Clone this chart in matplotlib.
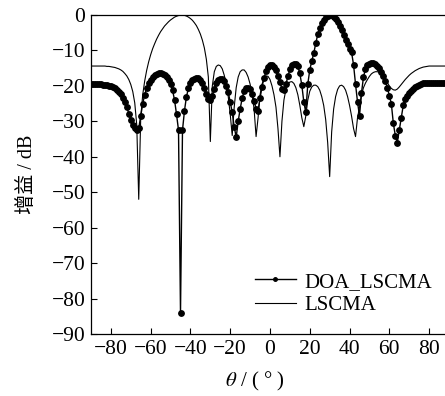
import numpy as np
import matplotlib
matplotlib.use('Agg')
import matplotlib.pyplot as plt

plt.rcParams['font.family'] = ['Liberation Serif', 'Noto Sans CJK SC']
plt.rcParams['mathtext.fontset'] = 'stix'
plt.rcParams['axes.unicode_minus'] = True

# angle grid, one value per degree
theta = np.arange(-90, 91)

lscma = [
    -14.4, -14.4, -14.4, -14.4, -14.4, -14.4, -14.4, -14.4, -14.5, -14.5,   # -90..-81
    -14.6, -14.7, -14.8, -15.0, -15.2, -15.5, -15.9, -16.5, -17.2, -18.2,   # -80..-71
    -19.6, -21.6, -24.8, -31.0, -52.0, -29.0, -22.5, -18.6, -15.6, -13.2,   # -70..-61
    -11.2, -9.5, -8.1, -6.8, -5.7, -4.7, -3.9, -3.1, -2.5, -1.9,            # -60..-51
    -1.4, -1.0, -0.6, -0.35, -0.15, -0.03, 0.0, -0.1, -0.3, -0.6,           # -50..-41
    -1.0, -1.5, -2.2, -3.0, -4.1, -5.4, -7.1, -9.3, -12.5, -17.5,           # -40..-31
    -35.7, -20.0, -16.0, -14.5, -14.1, -14.3, -15.2, -17.0, -19.5, -23.0,   # -30..-21
    -28.0, -34.0, -26.0, -20.5, -17.5, -16.0, -15.5, -15.5, -16.2, -17.5,   # -20..-11
    -19.5, -22.5, -26.5, -34.3, -29.0, -22.5, -19.5, -17.8, -17.2, -17.3,   # -10..-1
    -18.2, -20.0, -22.5, -26.0, -32.0, -40.0, -30.0, -24.0, -21.0, -19.5,   # 0..9
    -18.9, -18.8, -19.3, -20.5, -22.5, -25.5, -29.0, -31.5, -28.5, -24.0,   # 10..19
    -21.5, -20.3, -19.8, -19.8, -20.2, -21.2, -23.0, -25.5, -29.5, -36.0,   # 20..29
    -45.6, -33.0, -26.5, -23.0, -21.0, -20.0, -19.8, -20.2, -21.2, -23.0,   # 30..39
    -25.5, -28.5, -32.0, -34.3, -29.0, -26.0, -22.5, -20.5, -19.2, -18.2,   # 40..49
    -17.3, -16.6, -16.2, -16.0, -16.0, -16.2, -16.7, -17.3, -18.2, -19.1,   # 50..59
    -20.0, -20.7, -21.1, -21.2, -20.9, -20.3, -19.6, -18.9, -18.2, -17.6,   # 60..69
    -17.0, -16.5, -16.1, -15.7, -15.4, -15.1, -14.9, -14.7, -14.6, -14.5,   # 70..79
    -14.4, -14.4, -14.4, -14.4, -14.4, -14.4, -14.4, -14.4, -14.4, -14.4,   # 80..89
    -14.4,                                                                  # 90
]

doa_lscma = [
    -19.5, -19.5, -19.5, -19.5, -19.6, -19.6, -19.7, -19.7, -19.8, -19.9,   # -90..-81
    -20.1, -20.4, -20.7, -21.1, -21.7, -22.4, -23.3, -24.5, -26.0, -27.8,   # -80..-71
    -29.6, -31.0, -32.0, -32.5, -32.0, -28.5, -25.0, -22.5, -20.6, -19.2,   # -70..-61
    -18.2, -17.5, -17.0, -16.7, -16.5, -16.5, -16.6, -16.9, -17.4, -18.2,   # -60..-51
    -19.4, -21.2, -24.0, -28.0, -32.5, -84.0, -32.5, -27.0, -23.0, -20.7,   # -50..-41
    -19.3, -18.4, -18.0, -17.8, -17.9, -18.3, -19.1, -20.5, -22.3, -23.8,   # -40..-31
    -24.0, -22.8, -20.8, -19.2, -18.4, -18.0, -18.1, -18.7, -20.0, -21.8,   # -30..-21
    -24.5, -27.5, -31.5, -34.5, -30.0, -26.5, -23.5, -21.5, -20.7, -20.5,   # -20..-11
    -21.0, -22.3, -24.2, -26.5, -27.0, -23.5, -20.2, -17.8, -15.8, -14.7,   # -10..-1
    -14.2, -14.1, -14.6, -15.6, -17.2, -19.0, -20.8, -21.3, -19.6, -17.3,   # 0..9
    -15.3, -14.2, -13.7, -13.7, -14.5, -16.5, -19.8, -24.5, -27.5, -19.5,   # 10..19
    -15.5, -13.0, -10.8, -8.0, -5.5, -3.7, -2.3, -1.3, -0.6, -0.2,          # 20..29
    0.0, -0.1, -0.5, -1.1, -2.0, -3.0, -4.2, -5.6, -7.0, -8.3,              # 30..39
    -9.5, -10.5, -14.0, -19.5, -24.5, -28.5, -22.0, -17.5, -15.2, -14.2,    # 40..49
    -13.7, -13.5, -13.5, -13.8, -14.3, -15.0, -16.0, -17.2, -18.5, -20.5,   # 50..59
    -22.8, -25.0, -30.5, -34.0, -36.0, -32.5, -29.0, -25.5, -23.8, -22.8,   # 60..69
    -22.1, -21.4, -20.9, -20.4, -20.1, -19.8, -19.5, -19.3, -19.2, -19.1,   # 70..79
    -19.1, -19.1, -19.1, -19.1, -19.1, -19.1, -19.1, -19.1, -19.1, -19.1,   # 80..89
    -19.1,                                                                  # 90
]

xticks = [-80, -60, -40, -20, 0, 20, 40, 60, 80]
yticks = [0, -10, -20, -30, -40, -50, -60, -70, -80, -90]

fig = plt.figure(figsize=(4.45, 3.96), dpi=100)
ax = fig.add_axes([91 / 445, 1 - 334 / 396, 358 / 445, 319 / 396])

ax.plot(theta, doa_lscma, '-o', color='black', lw=1.0, ms=3.9,
        label='DOA_LSCMA')
ax.plot(theta, lscma, '-', color='black', lw=0.8, label='LSCMA')

ax.set_xlim(-90, 90)
ax.set_ylim(-90, 0)
ax.set_xticks(xticks)
ax.set_yticks(yticks)
ax.tick_params(direction='in', length=4, width=0.8, labelsize=15.5,
               top=False, right=False, pad=4)
for s in ax.spines.values():
    s.set_linewidth(0.9)
ax.spines['right'].set_visible(False)

ax.set_xlabel(r'$\theta$ / ( ° )', fontsize=15)
ax.xaxis.set_label_coords(0.458, -0.113)
ax.set_ylabel('增益 / dB', fontsize=14.5)
ax.yaxis.set_label_coords(-0.15, 0.5)

leg = ax.legend(loc='upper left', bbox_to_anchor=(0.458, 0.194), frameon=False,
                fontsize=15, handlelength=1.95, handletextpad=0.4,
                labelspacing=0.2, borderpad=0, borderaxespad=0,
                markerscale=0.65)

fig.savefig('out.png', dpi=100)
